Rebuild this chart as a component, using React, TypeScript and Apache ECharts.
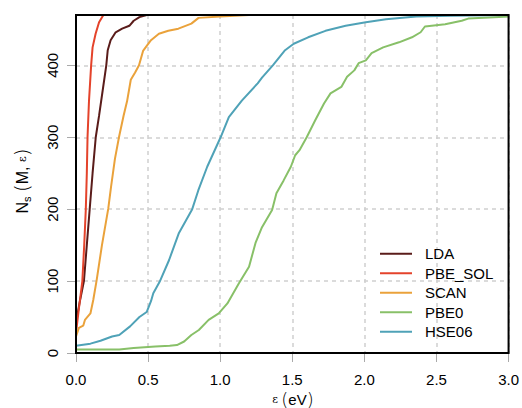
import React, { useEffect, useRef } from "react";
import * as echarts from "echarts";

const seriesNames = ["LDA", "PBE_SOL", "SCAN", "PBE0", "HSE06"];
const seriesColors = ["#5a1c1a", "#e4432b", "#eaa23b", "#88c068", "#4fa2b7"];

const ldaX = [0, 0.025, 0.055, 0.075, 0.095, 0.115, 0.137, 0.16, 0.185, 0.21, 0.22, 0.24, 0.275, 0.32, 0.37, 0.4, 0.44, 0.49, 3.0];
const ldaY = [42, 70, 100, 150, 200, 250, 300, 330, 365, 400, 421, 435, 446, 451, 455, 462, 467, 470, 470];

const pbesolX = [0, 0.022, 0.044, 0.057, 0.068, 0.075, 0.08, 0.09, 0.105, 0.115, 0.136, 0.16, 0.19, 3.0];
const pbesolY = [28, 65, 100, 150, 200, 250, 300, 350, 400, 425, 444, 460, 470, 470];

const scanX = [0, 0.02, 0.05, 0.062, 0.1, 0.12, 0.143, 0.18, 0.224, 0.243, 0.27, 0.298, 0.33, 0.354, 0.38, 0.41, 0.437, 0.465, 0.52, 0.575, 0.64, 0.71, 0.8, 0.85, 1.0, 1.2, 3.0];
const scanY = [23, 35, 38, 46, 55, 74, 101, 150, 201, 231, 270, 300, 330, 350, 380, 390, 400, 420, 435, 444, 448, 451, 458, 466, 468, 470, 470];

const pbe0X = [0, 0.3, 0.4, 0.55, 0.65, 0.7, 0.75, 0.8, 0.852, 0.92, 0.99, 1.05, 1.13, 1.2, 1.245, 1.29, 1.36, 1.39, 1.44, 1.49, 1.52, 1.55, 1.6, 1.66, 1.72, 1.765, 1.84, 1.88, 1.93, 1.96, 2.01, 2.05, 2.13, 2.24, 2.33, 2.39, 2.42, 2.56, 2.675, 2.72, 2.9, 3.0];
const pbe0Y = [5, 5, 7, 9, 10, 11, 16, 25, 32, 46, 55, 69, 97, 120, 153, 175, 199, 222, 240, 259, 275, 282, 300, 324, 347, 361, 370, 384, 393, 403, 407, 417, 425, 432, 439, 446, 454, 457, 462, 465, 467, 468];

const hseX = [0, 0.1, 0.17, 0.25, 0.3, 0.375, 0.44, 0.49, 0.52, 0.536, 0.58, 0.645, 0.714, 0.806, 0.848, 0.91, 1.003, 1.06, 1.15, 1.26, 1.29, 1.365, 1.45, 1.51, 1.61, 1.73, 1.87, 2.01, 2.15, 2.36, 2.6, 3.0];
const hseY = [10, 13, 17, 23, 25, 37, 50, 57, 72, 83, 99, 129, 167, 200, 226, 259, 300, 328, 351, 375, 383, 400, 421, 430, 439, 448, 455, 460, 464, 468, 469, 470];

const xTicks = [0, 0.5, 1.0, 1.5, 2.0, 2.5, 3.0];
const yTicks = [0, 100, 200, 300, 400];

const allX = [ldaX, pbesolX, scanX, pbe0X, hseX];
const allY = [ldaY, pbesolY, scanY, pbe0Y, hseY];

const FONT = "Liberation Sans";

export default function App() {
  const ref = useRef<HTMLDivElement>(null);
  useEffect(() => {
    if (!ref.current) return;
    const chart = echarts.init(ref.current, null, { renderer: "svg" });
    const series = seriesNames.map((name, i) => ({
      name,
      type: "line",
      showSymbol: false,
      symbol: "none",
      data: allX[i].map((x, j) => [x, allY[i][j]]),
      lineStyle: { width: 2, color: seriesColors[i] },
      itemStyle: { color: seriesColors[i] },
      z: 3,
    }));
    chart.setOption({
      animation: false,
      backgroundColor: "#ffffff",
      grid: {
        left: 76,
        right: 12,
        top: 15,
        bottom: 55,
        show: true,
        borderColor: "#000000",
        borderWidth: 2,
        backgroundColor: "transparent",
        z: 4,
      },
      xAxis: {
        type: "value",
        min: 0,
        max: 3,
        interval: 0.5,
        axisLine: { show: false },
        axisTick: { show: true, length: 9, lineStyle: { color: "#aaaaaa", width: 1 } },
        axisLabel: {
          customValues: xTicks,
          formatter: (v: number) => v.toFixed(1),
          fontFamily: FONT,
          fontSize: 15,
          color: "#000",
          margin: 19,
        },
        splitLine: { show: true, lineStyle: { color: "#cfcfcf", type: [4, 4], width: 1.5 } },
      },
      yAxis: {
        type: "value",
        min: 0,
        max: 470,
        interval: 100,
        axisLine: { show: false },
        axisTick: { show: true, customValues: yTicks, length: 9, lineStyle: { color: "#aaaaaa", width: 1 } },
        axisLabel: {
          customValues: yTicks,
          rotate: 90,
          fontFamily: FONT,
          fontSize: 15,
          color: "#000",
          margin: 16,
        },
        splitLine: { show: true, lineStyle: { color: "#cfcfcf", type: [4, 4], width: 1.5 } },
      },
      legend: {
        orient: "vertical",
        left: 380,
        top: 244,
        padding: 0,
        itemGap: 0,
        icon: "rect",
        itemWidth: 32,
        itemHeight: 2,
        data: seriesNames,
        textStyle: { fontFamily: FONT, fontSize: 15, color: "#000", lineHeight: 19.5, padding: [0, 0, 0, 8] },
      },
      graphic: [
        {
          type: "text",
          x: 22,
          y: 181,
          rotation: Math.PI / 2,
          style: {
            text: "{n|N}{s|s}{n| }{p|(}{n|M, }{e|ε}{p|)}",
            align: "center",
            verticalAlign: "middle",
            fill: "#000",
            rich: {
              n: { fontFamily: FONT, fontSize: 16, lineHeight: 20, verticalAlign: "middle" },
              s: { fontFamily: FONT, fontSize: 11, lineHeight: 12, verticalAlign: "bottom" },
              p: { fontFamily: "DejaVu Sans", fontSize: 20, fontWeight: 200, lineHeight: 20, verticalAlign: "middle" },
              e: { fontFamily: "DejaVu Serif", fontSize: 11, lineHeight: 20, verticalAlign: "middle" },
            },
          },
        },
        {
          type: "text",
          x: 293,
          y: 399,
          style: {
            text: "{e|ε} {p|(}{n|eV}{p|)}",
            align: "center",
            verticalAlign: "middle",
            fill: "#000",
            rich: {
              n: { fontFamily: FONT, fontSize: 15, lineHeight: 17 },
              p: { fontFamily: "DejaVu Sans", fontSize: 18, fontWeight: 200, lineHeight: 17 },
              e: { fontFamily: "DejaVu Serif", fontSize: 11, lineHeight: 17 },
            },
          },
        },
      ],
      series,
    });
    return () => chart.dispose();
  }, []);
  return <div ref={ref} style={{ width: 522, height: 408, position: "absolute", left: 0, top: 0 }} />;
}
